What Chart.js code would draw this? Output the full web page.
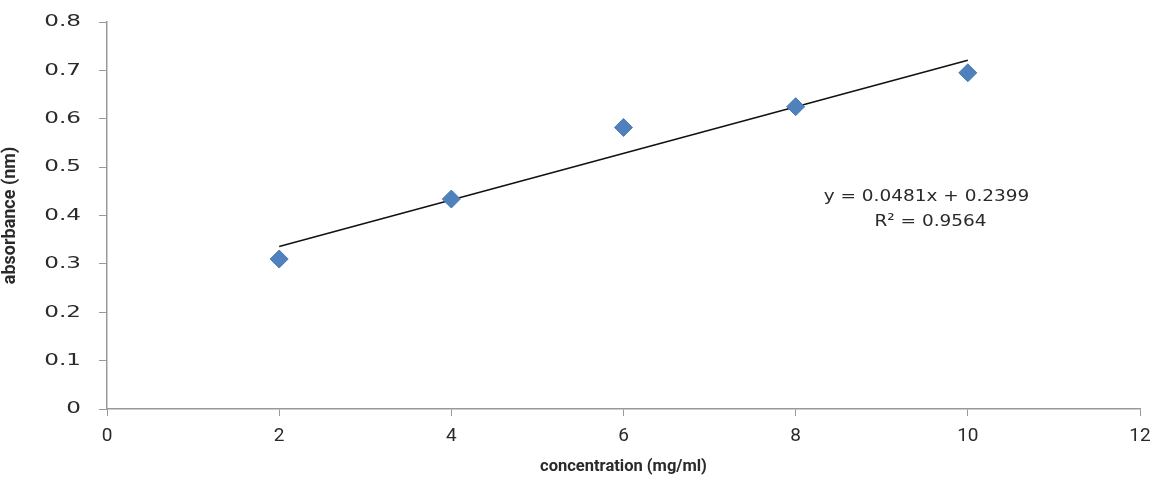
<!DOCTYPE html>
<html>
<head>
<meta charset="utf-8">
<script src="https://cdn.jsdelivr.net/npm/chart.js@4/dist/chart.umd.min.js"></script>
<style>
  html, body { margin: 0; padding: 0; background: #fff; }
  #wrap { width: 1161px; height: 477px; }
</style>
</head>
<body>
<div id="wrap"><canvas id="grafica"></canvas></div>
<script>
// datos
const concentracion = [2, 4, 6, 8, 10];
const absorbancia = [0.310, 0.434, 0.582, 0.625, 0.695];

// línea de tendencia (extremos de y = 0.0481x + 0.2399)
const tendenciaX = [2, 10];
const tendenciaY = [0.3361, 0.7209];

const ecuacion = "y = 0.0481x + 0.2399";
const r2 = "R² = 0.9564";

const xTicks = [0, 2, 4, 6, 8, 10, 12];
const yTicks = [0, 0.1, 0.2, 0.3, 0.4, 0.5, 0.6, 0.7, 0.8];

// texto ancho (etiquetas del eje Y y ecuación), estirado en horizontal
function textoAncho(ctx, txt, x, y, sx, align) {
    ctx.save();
    ctx.textAlign = align;
    ctx.textBaseline = "middle";
    ctx.scale(sx, 1);
    ctx.fillText(txt, x / sx, y);
    ctx.restore();
}

const textoExtra = {
    id: "textoExtra",
    afterDraw(chart) {
        const { ctx, scales } = chart;
        ctx.save();
        ctx.fillStyle = "#2a2a2a";
        ctx.font = "16.5px 'DejaVu Sans', sans-serif";
        // etiquetas del eje Y
        yTicks.forEach(v => {
            const lbl = String(Math.round(v * 10) / 10);
            textoAncho(ctx, lbl, 81, scales.y.getPixelForValue(v), 1.4, "right");
        });
        // ecuación y R²
        const x = scales.x.getPixelForValue(9.52);
        textoAncho(ctx, ecuacion, x, scales.y.getPixelForValue(0.4385), 1.12, "center");
        textoAncho(ctx, r2, x + 4, scales.y.getPixelForValue(0.3868), 1.12, "center");
        ctx.restore();
    }
};

new Chart(document.getElementById("grafica"), {
    type: "scatter",
    data: {
        datasets: [
            {
                label: "absorbancia",
                data: concentracion.map((c, i) => ({ x: c, y: absorbancia[i] })),
                pointStyle: "rectRot",
                pointRadius: 9,
                backgroundColor: "#4F81BD",
                borderColor: "#4A7AB5",
                borderWidth: 1
            },
            {
                label: "tendencia",
                type: "line",
                data: tendenciaX.map((c, i) => ({ x: c, y: tendenciaY[i] })),
                borderColor: "#111",
                borderWidth: 1.5,
                pointRadius: 0,
                fill: false
            }
        ]
    },
    options: {
        responsive: true,
        maintainAspectRatio: false,
        animation: false,
        layout: { padding: { top: 22, right: 21, left: 0, bottom: 0 } },
        plugins: { legend: { display: false }, tooltip: { enabled: false } },
        scales: {
            x: {
                type: "linear",
                min: 0,
                max: 12,
                afterBuildTicks: s => { s.ticks = xTicks.map(v => ({ value: v })); },
                ticks: {
                    color: "#2a2a2a",
                    font: { family: "Roboto, sans-serif", size: 19 },
                    padding: 9
                },
                grid: { drawOnChartArea: false, color: "#999", tickLength: 7 },
                border: { color: "#999", width: 1.5 },
                title: {
                    display: true,
                    text: "concentration (mg/ml)",
                    color: "#2a2a2a",
                    font: { family: "Roboto, sans-serif", size: 16.5, weight: "bold" },
                    padding: { top: 0, bottom: 0 }
                },
                afterFit: s => { s.height = 68; }
            },
            y: {
                min: 0,
                max: 0.8,
                afterBuildTicks: s => { s.ticks = yTicks.map(v => ({ value: v })); },
                ticks: { display: false },
                grid: { drawOnChartArea: false, color: "#999", tickLength: 8 },
                border: { color: "#999", width: 1.5 },
                title: {
                    display: true,
                    text: "absorbance (nm)",
                    color: "#2a2a2a",
                    font: { family: "Roboto, sans-serif", size: 18, weight: "bold" },
                    padding: { top: 0, bottom: 4 }
                },
                afterFit: s => { s.width = 107; }
            }
        }
    },
    plugins: [textoExtra]
});
</script>
</body>
</html>
